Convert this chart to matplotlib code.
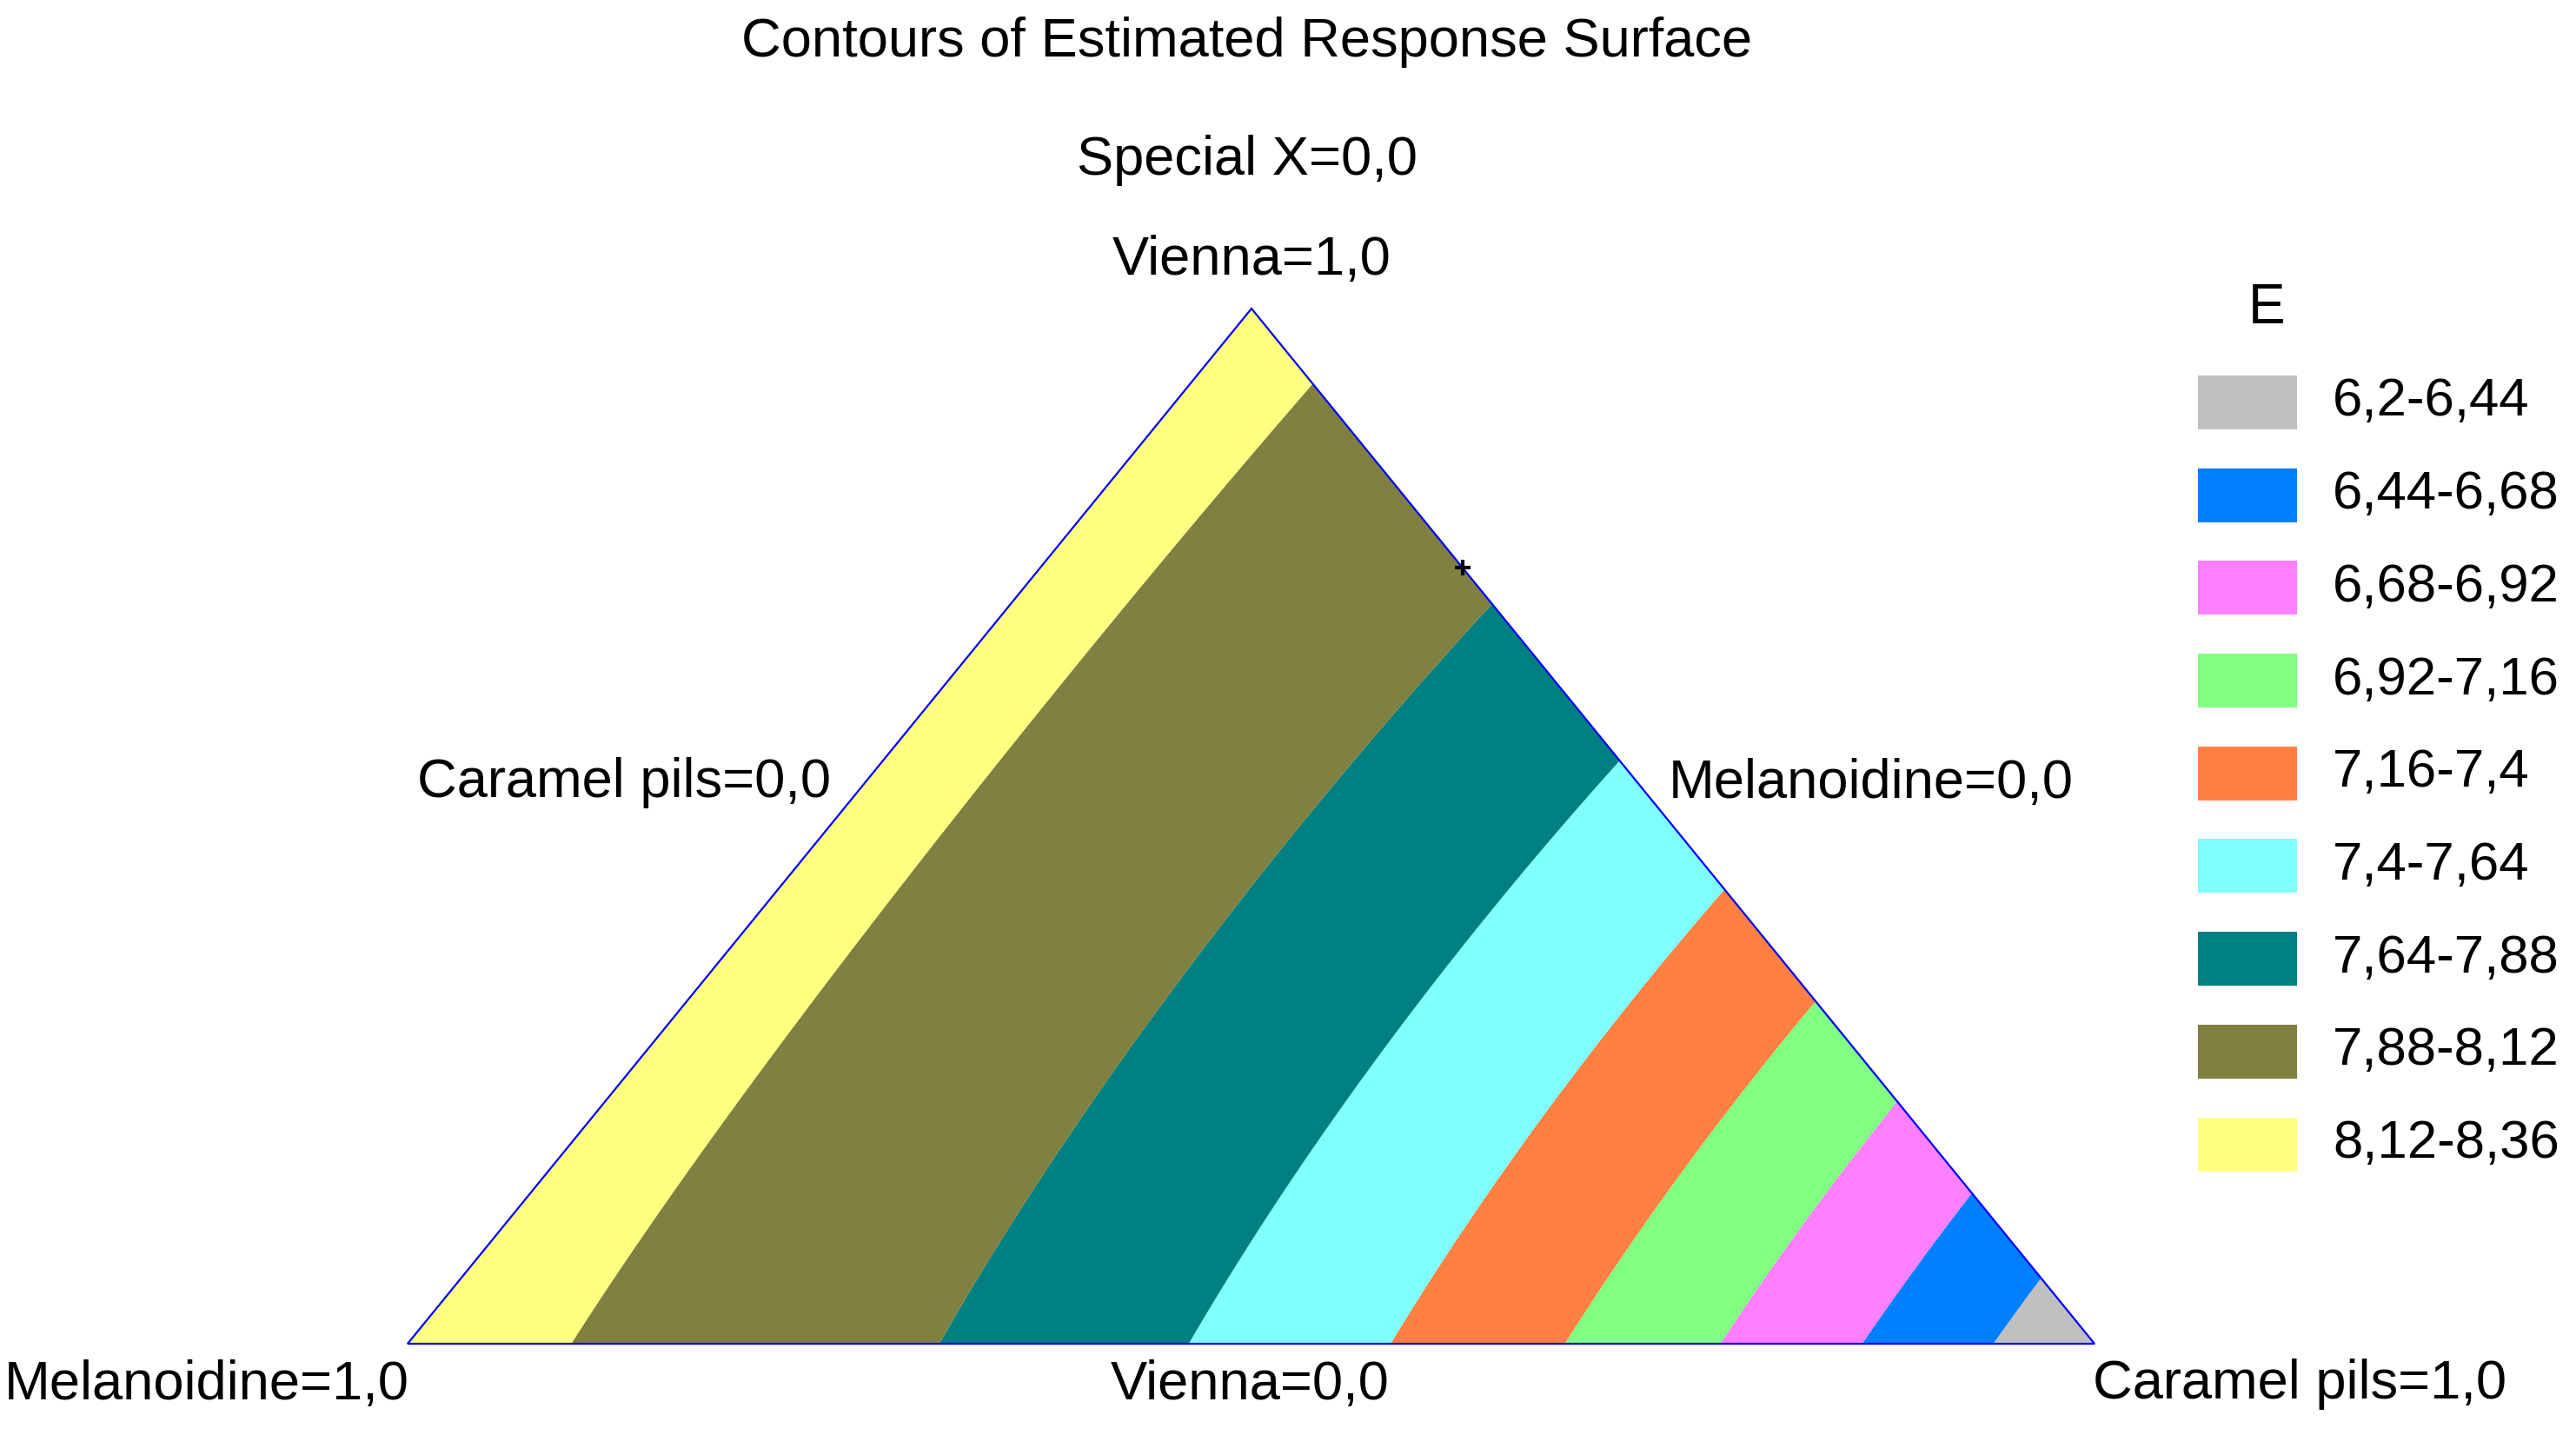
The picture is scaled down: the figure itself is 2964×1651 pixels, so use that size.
import numpy as np
import matplotlib
matplotlib.use("Agg")
import matplotlib.pyplot as plt
import matplotlib.tri as mtri
from matplotlib.patches import Rectangle, Polygon
from matplotlib import font_manager

# ---------------- data ----------------
components = ["Vienna", "Melanoidine", "Caramel pils"]
# Scheffe special-cubic mixture model coefficients
linear_coefs = [8.176, 8.183, 6.243]          # Vienna, Melanoidine, Caramel pils
interaction_coefs = [0.0, 1.253, 1.429]        # V*M, V*C, M*C
cubic_coef = -0.7                              # V*M*C
levels = [6.2, 6.44, 6.68, 6.92, 7.16, 7.4, 7.64, 7.88, 8.12, 8.36]
level_colors = ["#c0c0c0", "#0080ff", "#ff80ff", "#80ff80", "#ff8040",
                "#80ffff", "#008080", "#808040", "#ffff80"]
design_point = [0.75, 0.0, 0.25]               # V, M, C
response_name = "E"
title = "Contours of Estimated Response Surface"
fixed_label = "Special X=0,0"

# ---------------- fonts ----------------
names = {f.name for f in font_manager.fontManager.ttflist}
narrow = "Liberation Sans Narrow" if "Liberation Sans Narrow" in names else "Liberation Sans"
narrow_size = 54 if narrow == "Liberation Sans Narrow" else 45.5

W, H = 2964, 1651
fig = plt.figure(figsize=(W / 100, H / 100), dpi=100)
ax = fig.add_axes([0, 0, 1, 1])
ax.set_xlim(0, W)
ax.set_ylim(H, 0)
ax.axis("off")

# triangle layout (pixel space)
top = np.array([1440.0, 355.0])   # Vienna = 1
bl = np.array([469.0, 1546.0])    # Melanoidine = 1
br = np.array([2410.0, 1546.0])   # Caramel pils = 1

def to_xy(v, m, c):
    return v * top[0] + m * bl[0] + c * br[0], v * top[1] + m * bl[1] + c * br[1]

n = 240
vv, mm = [], []
for i in range(n + 1):
    for j in range(n + 1 - i):
        vv.append(i / n)
        mm.append(j / n)
vv = np.array(vv); mm = np.array(mm)
cc = np.clip(1 - vv - mm, 0, 1)
E = (linear_coefs[0] * vv + linear_coefs[1] * mm + linear_coefs[2] * cc
     + interaction_coefs[0] * vv * mm + interaction_coefs[1] * vv * cc
     + interaction_coefs[2] * mm * cc + cubic_coef * vv * mm * cc)
x, y = to_xy(vv, mm, cc)
tri = mtri.Triangulation(x, y)
ax.tricontourf(tri, E, levels=levels, colors=level_colors, antialiased=True)

# outline
ax.add_patch(Polygon([top, br, bl], closed=True, fill=False, edgecolor="#0000ff", lw=1.6, zorder=5))
px, py = to_xy(*design_point)
ax.plot([px], [py], marker="+", color="black", markersize=13, mew=3, zorder=6)

# texts
tk = dict(family=narrow, fontsize=narrow_size, color="black", ha="center", va="center")
ax.text(1435, 49, title, **tk)
ax.text(1435, 184, fixed_label, **tk)
ax.text(1440, 300, f"{components[0]}=1,0", **tk)
ax.text(718, 901, f"{components[2]}=0,0", **tk)
ax.text(2153, 901, f"{components[1]}=0,0", **tk)
ax.text(238, 1593, f"{components[1]}=1,0", **tk)
ax.text(1438, 1593, f"{components[0]}=0,0", **tk)
ax.text(2646, 1593, f"{components[2]}=1,0", **tk)

# legend
lk = dict(family="Liberation Sans", fontsize=44.5, color="black", va="center", ha="left")
ax.text(2608, 355, response_name, family="Liberation Sans", fontsize=46, ha="center", va="center")
y0, dy = 463, 106.7
def fmt(v):
    return (f"{v:g}").replace(".", ",")
for k in range(len(level_colors)):
    yc = y0 + k * dy
    ax.add_patch(Rectangle((2529, yc - 31), 114, 62, facecolor=level_colors[k], edgecolor="none"))
    ax.text(2684, yc, f"{fmt(levels[k])}-{fmt(levels[k+1])}", **lk)

fig.savefig("out.png", dpi=100)
